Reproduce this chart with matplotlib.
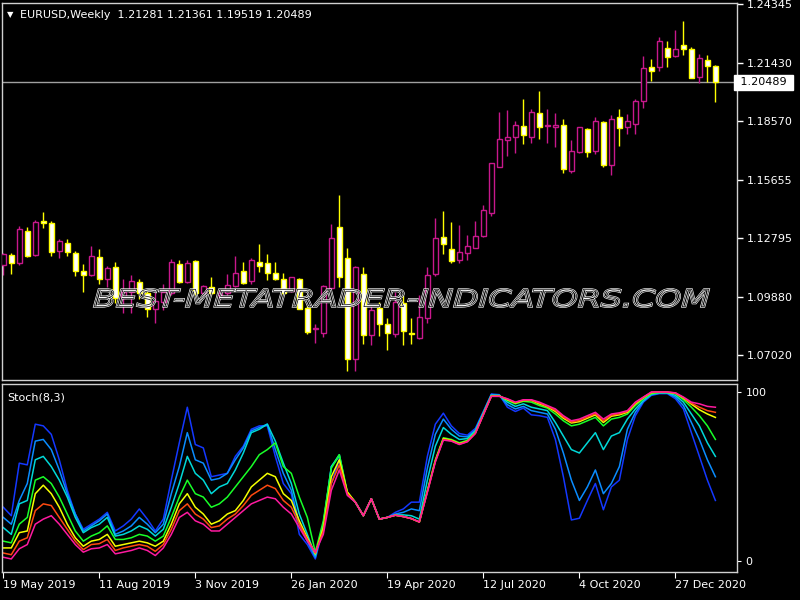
import numpy as np
import matplotlib
matplotlib.use("Agg")
import matplotlib.pyplot as plt
from matplotlib.textpath import TextPath
from matplotlib.patches import PathPatch
from matplotlib.font_manager import FontProperties
from matplotlib.transforms import Affine2D, IdentityTransform, blended_transform_factory

# weekly EURUSD candles, 19 May 2019 .. 31 Jan 2021
opens = [1.1147, 1.1198, 1.1156, 1.1316, 1.1196, 1.1364, 1.1353, 1.1214, 1.1257, 1.1205,
         1.1117, 1.1095, 1.1185, 1.1078, 1.1139, 1.0983, 1.1012, 1.1061, 1.1007, 1.0929,
         1.0965, 1.1007, 1.1150, 1.1064, 1.1165, 1.1007, 1.1037, 1.0999, 1.1007, 1.1041,
         1.1116, 1.1066, 1.1163, 1.1156, 1.1109, 1.1079, 1.1018, 1.1079, 1.0933, 1.0830,
         1.0810, 1.1032, 1.1335, 1.1181, 1.0682, 1.1104, 1.0801, 1.0933, 1.0856, 1.0806,
         1.0957, 1.0812, 1.0786, 1.0883, 1.1102, 1.1287, 1.1227, 1.1172, 1.1208, 1.1229,
         1.1290, 1.1402, 1.1632, 1.1764, 1.1780, 1.1833, 1.1780, 1.1897, 1.1835, 1.1830,
         1.1840, 1.1611, 1.1705, 1.1816, 1.1710, 1.1853, 1.1641, 1.1880, 1.1830, 1.1842,
         1.1957, 1.2123, 1.2126, 1.2217, 1.2179, 1.2233, 1.2212, 1.2077, 1.2159, 1.21281]
highs = [1.1206, 1.1208, 1.1339, 1.1336, 1.1369, 1.1407, 1.1364, 1.1274, 1.1274, 1.1216,
         1.1151, 1.1241, 1.1224, 1.1144, 1.1159, 1.1076, 1.1097, 1.1076, 1.1018, 1.1015,
         1.1053, 1.1177, 1.1172, 1.1172, 1.1172, 1.1048, 1.1086, 1.1024, 1.1102, 1.1193,
         1.1163, 1.1180, 1.1250, 1.1203, 1.1163, 1.1109, 1.1089, 1.1083, 1.0949, 1.0856,
         1.1048, 1.1350, 1.1492, 1.1230, 1.1140, 1.1137, 1.0942, 1.0962, 1.0883, 1.1015,
         1.0999, 1.0883, 1.0999, 1.1137, 1.1381, 1.1414, 1.1361, 1.1342, 1.1296, 1.1364,
         1.1443, 1.1649, 1.1904, 1.1913, 1.1858, 1.1965, 1.1917, 1.2007, 1.1917, 1.1899,
         1.1868, 1.1764, 1.1830, 1.1825, 1.1877, 1.1856, 1.1888, 1.1915, 1.1893, 1.1965,
         1.2179, 1.2164, 1.2274, 1.2255, 1.2307, 1.2352, 1.2225, 1.2189, 1.2184, 1.21361]
lows = [1.1097, 1.1102, 1.1149, 1.1188, 1.1191, 1.1331, 1.1193, 1.1183, 1.1190, 1.1090,
        1.1012, 1.1090, 1.1054, 1.1038, 1.0957, 1.0911, 1.0911, 1.0977, 1.0890, 1.0862,
        1.0924, 1.0999, 1.1057, 1.1057, 1.0999, 1.0999, 1.0999, 1.0974, 1.0999, 1.1038,
        1.1053, 1.1053, 1.1113, 1.1074, 1.1071, 1.0999, 1.1015, 1.0929, 1.0806, 1.0760,
        1.0793, 1.1027, 1.1040, 1.0621, 1.0621, 1.0758, 1.0753, 1.0796, 1.0727, 1.0793,
        1.0753, 1.0758, 1.0783, 1.0858, 1.1090, 1.1201, 1.1155, 1.1155, 1.1172, 1.1229,
        1.1287, 1.1388, 1.1629, 1.1685, 1.1698, 1.1744, 1.1751, 1.1768, 1.1749, 1.1729,
        1.1603, 1.1603, 1.1702, 1.1682, 1.1695, 1.1629, 1.1591, 1.1734, 1.1794, 1.1793,
        1.1921, 1.2055, 1.2106, 1.2123, 1.2172, 1.2184, 1.2069, 1.2047, 1.2052, 1.19519]
closes = [1.1201, 1.1156, 1.1323, 1.1193, 1.1358, 1.1354, 1.1212, 1.1264, 1.1209, 1.1115,
          1.1095, 1.1192, 1.1078, 1.1133, 1.0982, 1.1013, 1.1068, 1.1007, 1.0929, 1.0970,
          1.1015, 1.1163, 1.1064, 1.1158, 1.1007, 1.1043, 1.1007, 1.1007, 1.1050, 1.1108,
          1.1059, 1.1172, 1.1142, 1.1106, 1.1076, 1.1010, 1.1086, 1.0931, 1.0814, 1.0836,
          1.1043, 1.1282, 1.1089, 1.0682, 1.1135, 1.0801, 1.0926, 1.0856, 1.0810, 1.0965,
          1.0822, 1.0804, 1.0888, 1.1099, 1.1282, 1.1251, 1.1166, 1.1210, 1.1241, 1.1288,
          1.1418, 1.1649, 1.1768, 1.1779, 1.1838, 1.1789, 1.1904, 1.1830, 1.1840, 1.1837,
          1.1623, 1.1708, 1.1827, 1.1705, 1.1857, 1.1640, 1.1868, 1.1823, 1.1856, 1.1958,
          1.2118, 1.2106, 1.2253, 1.2172, 1.2212, 1.2213, 1.2072, 1.2171, 1.2131, 1.20489]

# rainbow stochastic lines (blue .. magenta)
stoch_blue = [32, 27, 58, 57, 81, 80, 75, 60, 42, 28, 19, 22, 25, 29, 18, 21, 25, 31, 25, 18,
              25, 48, 70, 91, 69, 67, 50, 51, 52, 62, 68, 78, 80, 80, 62, 46, 40, 16, 10, 1.5,
              20, 46, 60, 40, 35, 27, 37, 25, 26, 29, 31, 35, 35, 62, 81, 87.5, 80, 75.5, 74.5, 78.5,
              88.5, 98.8, 98.4, 91, 88.5, 90.5, 86.5, 86, 85, 72, 50, 24.5, 25.5, 36, 46, 30.5, 44, 48, 72, 86,
              94, 98, 99, 99, 96, 90, 76, 62, 48, 36]
stoch_azure = [26, 22, 36, 46, 71, 72, 66, 54, 40, 28, 18, 21, 24, 28, 16, 18, 21, 26, 22, 17,
               22, 40, 56, 76, 60, 58, 48, 49, 52, 60, 67, 77, 79, 81, 66, 52, 42, 22, 12, 2.5,
               22, 56, 62, 40, 35, 27, 37, 25, 26, 28, 29, 31, 30, 55, 75, 84, 78, 74, 73.5, 77.5,
               88, 98.5, 98, 92.5, 90, 91.5, 89, 88, 87, 78, 64, 48, 36, 44, 54, 40, 46, 56, 78, 88,
               94.5, 98.4, 99.3, 99.3, 97, 92, 82, 72, 60, 50]
stoch_cyan = [20, 16, 34, 36, 60, 62, 56, 48, 38, 26, 17, 20, 22, 26, 15, 16, 18, 21, 19, 15,
              19, 32, 46, 62, 52, 48, 40, 44, 46, 54, 64, 76, 78, 81, 71, 58, 46, 28, 16, 3.5,
              22, 56, 63, 40, 35, 27, 37, 25, 26, 27.5, 27.5, 27, 25, 48, 68, 79, 75, 72, 72.5, 77,
              87.5, 98, 98, 94, 91.5, 93, 91, 90, 89, 82, 74, 66, 64, 70, 76, 66, 74, 76, 84, 90,
              95, 98.8, 99.5, 99.5, 98, 94, 87, 80, 70, 62]
stoch_green = [12, 11, 22, 26, 48, 50, 46, 38, 28, 18, 12, 15, 17, 21, 13, 13, 14, 16, 15, 12,
               15, 26, 38, 48, 40, 38, 32, 34, 38, 44, 50, 56, 63, 66, 70, 56, 52, 38, 26, 5.5,
               24, 55, 63, 41, 35, 27, 37, 25, 26, 27.3, 26.5, 25.3, 23.3, 42, 60, 73, 72, 70, 71.5, 76,
               87, 97.8, 97.8, 95, 93, 94.5, 94, 92, 90.5, 87, 83, 80, 81, 83, 85, 80, 84, 85, 87, 92,
               96, 99, 99.7, 99.7, 99, 95.5, 91, 86, 80, 72]
stoch_yellow = [8, 8, 17, 18, 40, 45, 40, 32, 22, 14, 9, 12, 13, 16, 9, 10, 11, 12, 11, 9,
                12, 22, 34, 40, 32, 28, 22, 24, 28, 30, 36, 44, 48, 52, 50, 40, 36, 24, 14, 4.5,
                20, 50, 60, 41, 35, 27, 37, 25, 26, 27.3, 26.5, 25.3, 23.3, 41.5, 59.5, 72.5, 71.5, 69.5, 71, 75.8,
                86.8, 97.6, 97.6, 95.5, 93.5, 95, 95, 93, 91.3, 88.5, 84.5, 81.7, 82.5, 84.5, 86.5, 82, 85.7, 86.5, 88, 93,
                96.6, 99.6, 100, 99.8, 99.3, 96.4, 92.8, 89.5, 87, 85]
stoch_red = [5, 4, 12, 14, 30, 34, 33, 26, 19, 12, 7, 10, 10.5, 13, 6.5, 8, 9, 10, 9, 6,
             10, 19, 30, 34, 28, 25, 20, 21, 25, 28, 33, 39, 42, 45, 43, 36, 32, 22, 13, 5,
             18, 46, 57, 40, 35, 27, 37, 25, 26, 27.3, 26.5, 25.3, 23.3, 41, 59, 72, 71.2, 69.2, 70.8, 75.6,
             86.6, 97.5, 97.5, 95.8, 93.8, 95.2, 95.2, 93.5, 91.6, 89.2, 85.2, 82.3, 83.2, 85.2, 87.2, 83, 86.3, 87.1, 88.5, 93.5,
             96.8, 99.8, 100, 99.9, 99.4, 96.7, 93.4, 91, 89, 88]
stoch_magenta = [2.5, 1.5, 7.5, 10, 22, 25, 27, 22, 16, 10, 5.5, 7.5, 8, 10, 4.5, 5.5, 6.5, 8, 6.5, 3.5,
                 8, 16, 26, 29, 24, 22, 18, 18, 22, 26, 30, 34, 36, 38, 37, 32, 28, 20, 12, 5.5,
                 16, 42, 54, 39, 35, 27, 37, 25, 26, 27.3, 26.5, 25.3, 23.3, 40.8, 58.7, 71.6, 71, 69, 70.6, 75.5,
                 86.5, 97.4, 97.4, 96, 94, 95.4, 95.4, 94, 92, 90, 86, 83, 84, 86, 88, 84, 87, 87.7, 89, 94,
                 97, 100, 100, 100, 99.5, 97, 94, 93, 91.5, 91]

date_pos = [0, 12, 24, 36, 48, 60, 72, 84]
date_labels = ['19 May 2019', '11 Aug 2019', '3 Nov 2019', '26 Jan 2020',
               '19 Apr 2020', '12 Jul 2020', '4 Oct 2020', '27 Dec 2020']
price_ticks = [1.24345, 1.21430, 1.18570, 1.15655, 1.12795, 1.09880, 1.07020]
last_price = 1.20489

BULL = '#c8188c'
BEAR = '#ffff00'

fig = plt.figure(figsize=(8, 6), dpi=100, facecolor='black')
ax = fig.add_axes([2/800, 1 - 380/600, 735/800, 377/600], facecolor='black')
ax2 = fig.add_axes([2/800, 1 - 572/600, 735/800, 188/600], facecolor='black')

o = np.array(opens); h = np.array(highs); l = np.array(lows); c = np.array(closes)
x = np.arange(len(o))
up = c >= o

# wicks then bodies
ax.vlines(x[up], l[up], h[up], color=BULL, lw=1, zorder=2)
ax.vlines(x[~up], l[~up], h[~up], color=BEAR, lw=1, zorder=2)
body_h = np.maximum(np.abs(c - o), 0.00025)
body_b = np.minimum(o, c)
ax.bar(x[up], body_h[up], bottom=body_b[up], width=0.6, color='black',
       edgecolor=BULL, linewidth=1.0, zorder=3)
ax.bar(x[~up], body_h[~up], bottom=body_b[~up], width=0.6, color='white',
       edgecolor=BEAR, linewidth=1.0, zorder=3)

ax.axhline(last_price, color='#a0a0a0', lw=1, zorder=1)
ax.set_xlim(-0.16, 91.7)
ax.set_ylim(1.05785, 1.24409)
ax.set_xticks([])
ax.yaxis.tick_right()
ax.set_yticks(price_ticks)
ax.set_yticklabels([f'{p:.5f}' for p in price_ticks])
ax.tick_params(axis='y', colors='white', labelcolor='white', length=4, width=1,
               labelsize=8, pad=3)
tr = blended_transform_factory(ax.transAxes, ax.transData)
ax.text(1.0, last_price, ' 1.20489 ', transform=tr, ha='left', va='center',
        fontsize=8, color='black',
        bbox=dict(boxstyle='square,pad=0.25', fc='white', ec='white'))

for a in (ax, ax2):
    for s in a.spines.values():
        s.set_color('#d0d0d0')
        s.set_linewidth(1)

# stochastic rainbow
series = [(stoch_blue, '#1438ff'), (stoch_azure, '#0a8cff'), (stoch_cyan, '#00d8d8'),
          (stoch_green, '#18ff28'), (stoch_yellow, '#f4ff00'), (stoch_red, '#ff4a10'),
          (stoch_magenta, '#ff1aa0')]
for vals, col in series:
    ax2.plot(x, vals, color=col, lw=1.1, zorder=2)

ax2.set_xlim(-0.16, 91.7)
ax2.set_ylim(-6.2, 104.7)
ax2.yaxis.tick_right()
ax2.set_yticks([100, 0])
ax2.set_yticklabels(['100', '0'])
ax2.tick_params(axis='y', colors='white', labelcolor='white', length=3, labelsize=8, pad=3)
ax2.set_xticks(date_pos)
ax2.set_xticklabels(date_labels, ha='left')
ax2.tick_params(axis='x', colors='white', labelcolor='white', length=4, labelsize=8, pad=2)

fig.text(7/800, 1 - 15/600, '\u25bc', color='white', fontsize=6, va='center', ha='left')
fig.text(20/800, 1 - 15/600, 'EURUSD,Weekly  1.21281 1.21361 1.19519 1.20489',
         color='white', fontsize=8, va='center', ha='left')
fig.text(7/800, 1 - 397/600, 'Stoch(8,3)', color='white', fontsize=8, va='center', ha='left')

# watermark (outlined, thin)
tp = TextPath((0, 0), 'BEST-METATRADER-INDICATORS.COM', size=20,
              prop=FontProperties(family='DejaVu Sans', weight='normal', style='italic'))
bb = tp.get_extents()
wm = Affine2D().translate(-bb.x0, -bb.y0).scale(615 / bb.width, 18 / bb.height).translate(94, 293)
path = wm.transform_path(tp)
fig.add_artist(PathPatch(path, fc='none', ec='white', lw=1.4, transform=IdentityTransform(), zorder=5))
fig.add_artist(PathPatch(path, fc='none', ec='black', lw=0.5, transform=IdentityTransform(), zorder=6))

fig.savefig('out.png', dpi=100, facecolor='black')
